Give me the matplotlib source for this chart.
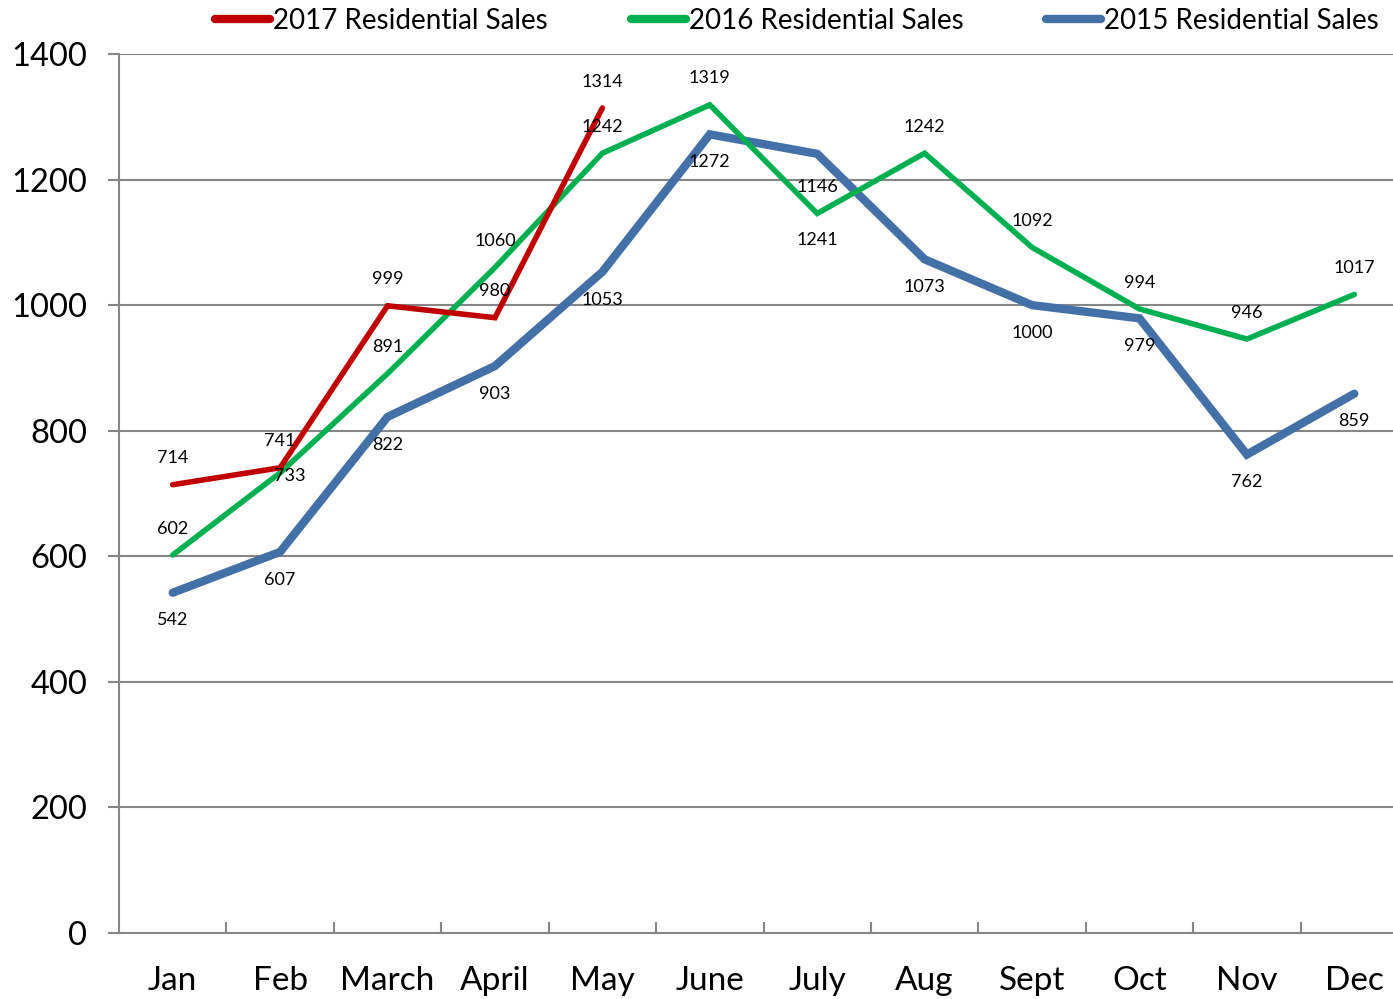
import matplotlib
matplotlib.use("Agg")
import matplotlib.pyplot as plt
from matplotlib.ticker import FixedLocator

months = ["Jan", "Feb", "March", "April", "May", "June", "July", "Aug", "Sept", "Oct", "Nov", "Dec"]
sales_2017 = [714, 741, 999, 980, 1314]
sales_2016 = [602, 733, 891, 1060, 1242, 1319, 1146, 1242, 1092, 994, 946, 1017]
sales_2015 = [542, 607, 822, 903, 1053, 1272, 1241, 1073, 1000, 979, 762, 859]
y_ticks = [0, 200, 400, 600, 800, 1000, 1200, 1400]

# label offsets (points) for each data label
off_2017 = [(0, 19)] * 5
off_2016 = [(0, 19), (7, -2), (0, 19), (0, 19), (0, 19), (0, 19), (0, 19), (0, 19), (0, 19), (0, 19), (0, 19), (0, 19)]
off_2015 = [(0, -20)] * 6 + [(0, -62)] + [(0, -20)] * 5

plt.rcParams['font.family'] = ['Lato', 'DejaVu Sans']

fig = plt.figure(figsize=(13.93, 9.99), dpi=100)
ax = fig.add_axes([119 / 1393, 66 / 999, (1408 - 119) / 1393, (933 - 54) / 999])

c17, c16, c15 = "#C00000", "#00B050", "#4470A8"
x = list(range(len(months)))
l17, = ax.plot(x[:len(sales_2017)], sales_2017, color=c17, lw=4, solid_capstyle="round", solid_joinstyle="miter", zorder=4)
l16, = ax.plot(x, sales_2016, color=c16, lw=4, solid_capstyle="round", solid_joinstyle="miter", zorder=3)
l15, = ax.plot(x, sales_2015, color=c15, lw=6, solid_capstyle="round", solid_joinstyle="miter", zorder=2)

for vals, offs in ((sales_2017, off_2017), (sales_2016, off_2016), (sales_2015, off_2015)):
    for i, v in enumerate(vals):
        ax.annotate(str(v), (i, v), xytext=offs[i], textcoords="offset points",
                    ha="center", va="center", fontsize=13, color="black", zorder=5)

ax.set_xlim(-0.5, 11.5)
ax.set_ylim(0, 1400)
ax.set_yticks(y_ticks)
ax.set_yticklabels([str(t) for t in y_ticks], fontsize=23.5)
ax.yaxis.grid(True, color="#868686", lw=1.5)
ax.set_axisbelow(True)
ax.tick_params(axis="y", direction="out", length=8, width=1.5, color="#868686", pad=15)

ax.set_xticks(x)
ax.set_xticklabels(months, fontsize=24)
ax.tick_params(axis="x", which="major", length=0, pad=24)
ax.xaxis.set_minor_locator(FixedLocator([i + 0.5 for i in range(11)]))
ax.tick_params(axis="x", which="minor", direction="in", length=8, width=1.5, color="#868686")

for s in ("top", "right"):
    ax.spines[s].set_visible(False)
for s in ("left", "bottom"):
    ax.spines[s].set_color("#868686")
    ax.spines[s].set_linewidth(1.5)

leg = fig.legend([l17, l16, l15],
                 ["2017 Residential Sales", "2016 Residential Sales", "2015 Residential Sales"],
                 loc="center", bbox_to_anchor=(797 / 1393, 1 - 21 / 999), ncol=3, frameon=False,
                 fontsize=20, handlelength=1.98, handletextpad=0.1, columnspacing=2.98,
                 borderaxespad=0, borderpad=0)
for h in leg.legend_handles:
    h.set_linewidth(6)

fig.savefig("out.png", dpi=100)
